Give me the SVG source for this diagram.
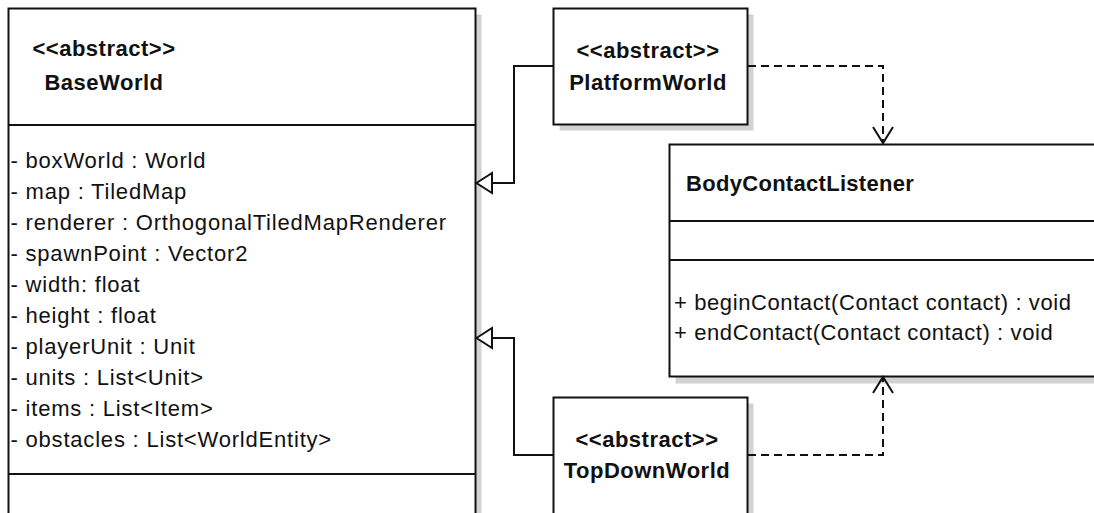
<svg xmlns="http://www.w3.org/2000/svg" width="1094" height="513" viewBox="0 0 1094 513">
<defs>
<style>
.shadow{fill:#d2d2d2;stroke:none}
.box{fill:#fff;stroke:#111;stroke-width:2}
.sep{stroke:#111;stroke-width:2}
.t{font-family:"Liberation Sans",Arial,sans-serif;font-size:22px;fill:#111}
.b{font-weight:bold;letter-spacing:0.5px}
.a{letter-spacing:0.8px}
.m{letter-spacing:0.6px}
.c{text-anchor:middle}
.edge{fill:none;stroke:#111;stroke-width:2}
.dash{fill:none;stroke:#111;stroke-width:2;stroke-dasharray:8 5}
.tri{fill:#fff;stroke:#111;stroke-width:2}
.open{fill:none;stroke:#111;stroke-width:2}
</style>
</defs>
<rect width="1094" height="513" fill="#fff"/>

<g id="BaseWorld">
<rect class="shadow" x="14.5" y="14.5" width="467" height="520"/>
<rect class="box" x="8.5" y="8.5" width="467" height="520"/>
<line class="sep" x1="8.5" y1="125" x2="475.5" y2="125"/>
<line class="sep" x1="8.5" y1="474" x2="475.5" y2="474"/>
<text class="t b c" x="104" y="56">&lt;&lt;abstract&gt;&gt;</text>
<text class="t b c" x="104" y="90">BaseWorld</text>
<text class="t a" x="10.5" y="168">- boxWorld : World</text>
<text class="t a" x="10.5" y="199">- map : TiledMap</text>
<text class="t a" x="10.5" y="230">- renderer : OrthogonalTiledMapRenderer</text>
<text class="t a" x="10.5" y="261">- spawnPoint : Vector2</text>
<text class="t a" x="10.5" y="292">- width: float</text>
<text class="t a" x="10.5" y="323">- height : float</text>
<text class="t a" x="10.5" y="354">- playerUnit : Unit</text>
<text class="t a" x="10.5" y="385">- units : List&lt;Unit&gt;</text>
<text class="t a" x="10.5" y="416">- items : List&lt;Item&gt;</text>
<text class="t a" x="10.5" y="447">- obstacles : List&lt;WorldEntity&gt;</text>
</g>

<g id="PlatformWorld">
<rect class="shadow" x="559.5" y="14.5" width="194" height="116"/>
<rect class="box" x="553.5" y="8.5" width="194" height="116"/>
<text class="t b c" x="648" y="58">&lt;&lt;abstract&gt;&gt;</text>
<text class="t b c" x="648" y="90">PlatformWorld</text>
</g>

<g id="TopDownWorld">
<rect class="shadow" x="559.5" y="403.5" width="194" height="130"/>
<rect class="box" x="553.5" y="397.5" width="194" height="130"/>
<text class="t b c" x="647" y="447">&lt;&lt;abstract&gt;&gt;</text>
<text class="t b c" x="647" y="478">TopDownWorld</text>
</g>

<g id="BodyContactListener">
<rect class="shadow" x="675.5" y="150.5" width="440" height="233"/>
<rect class="box" x="669.5" y="144.5" width="440" height="232"/>
<line class="sep" x1="669.5" y1="221" x2="1100" y2="221"/>
<line class="sep" x1="669.5" y1="260" x2="1100" y2="260"/>
<text class="t b" x="686" y="191" style="letter-spacing:0.3px">BodyContactListener</text>
<text class="t m" x="674" y="310">+ beginContact(Contact contact) : void</text>
<text class="t m" x="674" y="340">+ endContact(Contact contact) : void</text>
</g>

<g id="connectors">
<polyline class="edge" points="553,66 514,66 514,183 492,183"/>
<polygon class="tri" points="476.5,183 492,173 492,193"/>
<polyline class="edge" points="553,455 514,455 514,338 492,338"/>
<polygon class="tri" points="476.5,338 492,328 492,348"/>
<polyline class="dash" points="748,66 883,66 883,142"/>
<polyline class="open" points="873,127 883,143 893,127"/>
<polyline class="dash" points="748,455 883,455 883,379"/>
<polyline class="open" points="873,393 883,377 893,393"/>
</g>
</svg>
